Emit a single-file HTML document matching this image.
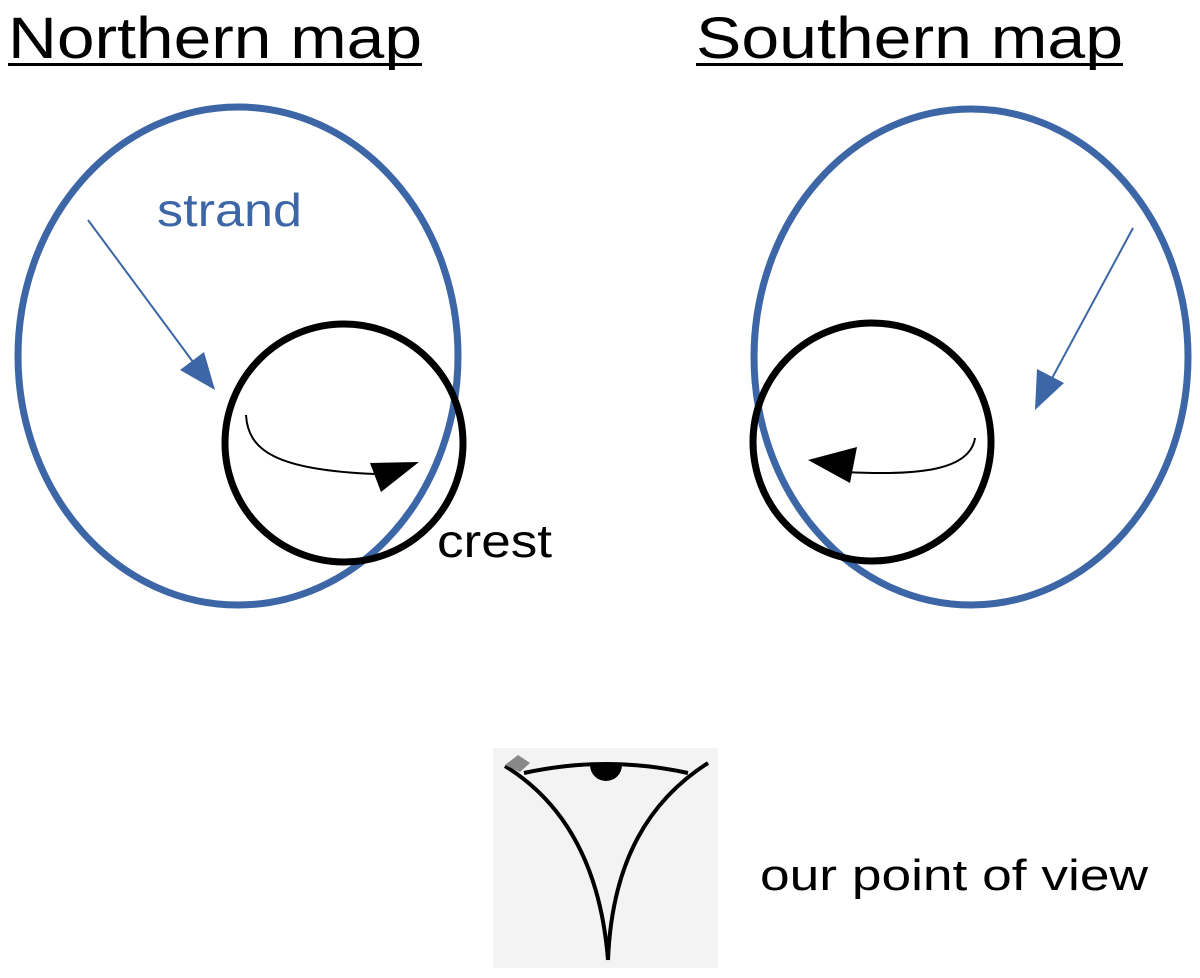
<!DOCTYPE html>
<html><head><style>
html,body{margin:0;padding:0;background:#fff;}
svg{display:block;}
text{font-family:"Liberation Sans",sans-serif;}
</style></head><body>
<svg width="1200" height="978" viewBox="0 0 1200 978">
<text x="8" y="58" font-size="58" fill="#000" textLength="414" lengthAdjust="spacingAndGlyphs">Northern map</text>
<rect x="8" y="63" width="414" height="3" fill="#000"/>
<text x="696" y="58" font-size="58" fill="#000" textLength="427" lengthAdjust="spacingAndGlyphs">Southern map</text>
<rect x="696" y="63" width="427" height="3" fill="#000"/>

<ellipse cx="238" cy="356" rx="220" ry="249" fill="none" stroke="#3c66a6" stroke-width="7"/>
<circle cx="344" cy="443" r="119" fill="none" stroke="#000" stroke-width="7"/>
<text x="157" y="226" font-size="46" fill="#3c66a6" textLength="145" lengthAdjust="spacingAndGlyphs">strand</text>
<line x1="88" y1="220" x2="196" y2="366" stroke="#3c66a6" stroke-width="2"/>
<polygon points="215,390 180,370 204,352" fill="#3c66a6"/>
<path d="M246,415 C248,450 275,470 375,474" fill="none" stroke="#000" stroke-width="2"/>
<polygon points="370,463 419,462 381,492" fill="#000"/>
<text x="437" y="557" font-size="46" fill="#000" textLength="115" lengthAdjust="spacingAndGlyphs">crest</text>

<ellipse cx="971" cy="357" rx="217" ry="248" fill="none" stroke="#3c66a6" stroke-width="7"/>
<circle cx="872" cy="442" r="119" fill="none" stroke="#000" stroke-width="7"/>
<line x1="1133" y1="228" x2="1050" y2="382" stroke="#3c66a6" stroke-width="2"/>
<polygon points="1035,410 1037,369 1064,383" fill="#3c66a6"/>
<path d="M975,438 C970,470 920,476 845,472" fill="none" stroke="#000" stroke-width="2"/>
<polygon points="808,460 857,447 850,483" fill="#000"/>

<rect x="493" y="748" width="225" height="220" fill="#f3f3f3"/>
<path d="M524,773 Q606,755 688,773" fill="none" stroke="#000" stroke-width="4"/>
<path d="M590,765 A16,16 0 0 0 622,765 Z" fill="#000"/>
<path d="M505,766 C560,800 600,860 608,960" fill="none" stroke="#000" stroke-width="4"/>
<path d="M708,763 C650,800 612,860 608,960" fill="none" stroke="#000" stroke-width="4"/>
<polygon points="505,765 518,755 530,763 520,772" fill="#888"/>
<text x="760" y="890" font-size="44" fill="#000" textLength="388" lengthAdjust="spacingAndGlyphs">our point of view</text>
</svg>
</body></html>
